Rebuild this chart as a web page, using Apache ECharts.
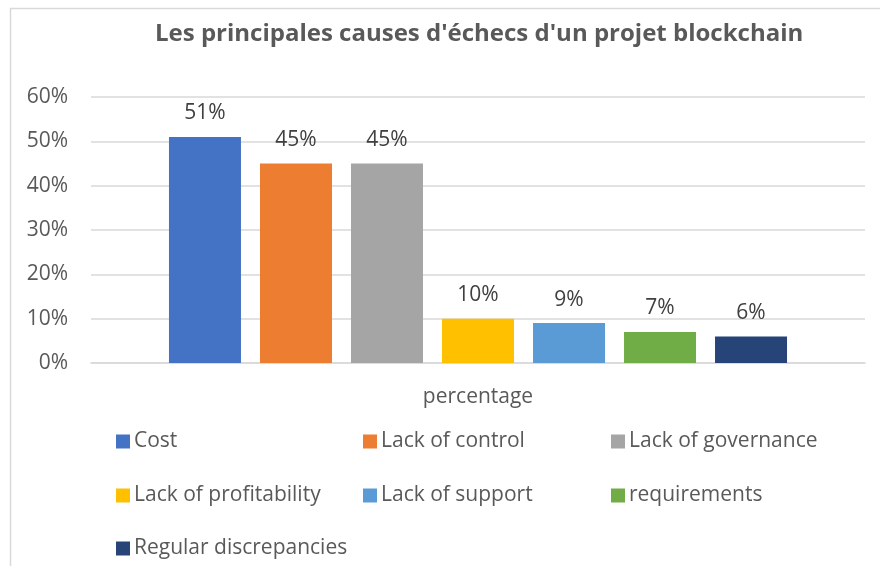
<!DOCTYPE html>
<html><head><meta charset="utf-8">
<script src="https://cdn.jsdelivr.net/npm/echarts@6/dist/echarts.min.js"></script>
<style>html,body{margin:0;padding:0;background:#fff}#c{width:880px;height:566px}</style>
</head><body><div id="c"></div>
<script>
const title = "Les principales causes d'échecs d'un projet blockchain";
const categories = ["percentage"];
const seriesNames = ["Cost","Lack of control","Lack of governance","Lack of profitability","Lack of support","requirements","Regular discrepancies"];
const seriesValues = [51,45,45,10,9,7,6];
const seriesColors = ["#4472C4","#ED7D31","#A5A5A5","#FFC000","#5B9BD5","#70AD47","#264478"];
const yTicks = [0,10,20,30,40,50,60];

const FONT = "'Open Sans', 'Noto Sans', sans-serif";
const legendPos = [[116,439],[363,439],[611,439],[116,493],[363,493],[611,493],[116,546]];

const chart = echarts.init(document.getElementById('c'), null, {renderer:'canvas'});
chart.setOption({
  animation:false,
  backgroundColor:'#fff',
  title:{text:title,left:150,top:17,textStyle:{fontFamily:FONT,fontSize:24,fontWeight:'bold',color:'#595959'}},
  graphic:[{type:'rect',shape:{x:10.5,y:8.5,width:900,height:600},style:{fill:'none',stroke:'#d9d9d9',lineWidth:1.5},silent:true}],
  grid:{left:91,right:15,top:97,bottom:203,containLabel:false},
  xAxis:{type:'category',data:categories,
    axisLine:{lineStyle:{color:'#d9d9d9',width:1.5}},axisTick:{show:false},
    axisLabel:{fontFamily:FONT,fontSize:21,color:'#595959',margin:24}},
  yAxis:{type:'value',min:yTicks[0],max:yTicks[yTicks.length-1],interval:10,
    axisLine:{show:false},axisTick:{show:false},
    splitLine:{lineStyle:{color:'#d9d9d9',width:1.5}},
    axisLabel:{formatter:'{value}%',fontFamily:FONT,fontSize:21,color:'#595959',margin:23}},
  legend: seriesNames.map((n,i)=>({
    data:[n],left:legendPos[i][0],top:legendPos[i][1]-8,itemWidth:14,itemHeight:14,itemGap:0,
    icon:'rect',textStyle:{fontFamily:FONT,fontSize:21,color:'#595959',padding:[0,0,0,-1]},padding:0
  })),
  series: seriesNames.map((n,i)=>({
    name:n,type:'bar',data:[seriesValues[i]],barWidth:72,barGap:'26.4%',
    itemStyle:{color:seriesColors[i]},
    label:{show:true,position:'top',formatter:'{c}%',fontFamily:FONT,fontSize:21,color:'#404040',distance:13}
  }))
});
</script></body></html>
